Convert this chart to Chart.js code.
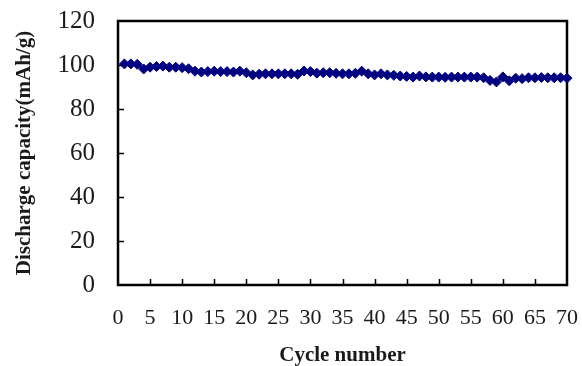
<!DOCTYPE html>
<html>
<head>
<meta charset="utf-8">
<script src="https://cdn.jsdelivr.net/npm/chart.js@4/dist/chart.umd.min.js"></script>
<style>
  body { margin: 0; background: #fff; }
  canvas { display: block; }
</style>
</head>
<body>
<canvas id="myChart" width="582" height="366"></canvas>
<script>
// cycle numbers 1..70 and discharge capacity
var cycles = [];
for (var i = 1; i <= 70; i++) cycles.push(i);

var capacity = [
    100.5, 100.5, 100.3, 98.2, 99.0, 99.3, 99.5, 99.0, 99.0, 98.8,
    98.3, 97.2, 96.8, 97.0, 97.2, 97.0, 97.0, 96.8, 97.2, 96.5,
    95.5, 95.8, 96.0, 96.0, 96.0, 96.0, 96.0, 95.8, 97.3, 97.0,
    96.3, 96.5, 96.5, 96.2, 96.0, 96.0, 96.2, 97.2, 96.0, 95.5,
    96.0, 95.5, 95.3, 95.0, 94.8, 94.5, 95.0, 94.6, 94.5, 94.5,
    94.4, 94.5, 94.5, 94.5, 94.5, 94.5, 94.2, 93.0, 92.3, 94.6,
    92.8, 94.0, 93.8, 94.2, 94.2, 94.3, 94.2, 94.2, 94.2, 94.0
];

var xTicks = [0, 5, 10, 15, 20, 25, 30, 35, 40, 45, 50, 55, 60, 65, 70];
var yTicks = [0, 20, 40, 60, 80, 100, 120];

var serif = '"Liberation Serif", "Times New Roman", serif';

// frame around the plot plus short inward tick marks
var framePlugin = {
    id: 'frame',
    beforeDatasetsDraw: function (chart) {
        var ctx = chart.ctx;
        var a = chart.chartArea;
        var xs = chart.scales.x, ys = chart.scales.y;
        ctx.save();
        ctx.strokeStyle = '#000';
        ctx.lineWidth = 1.5;
        ctx.beginPath();
        xTicks.slice(1, -1).forEach(function (v) {
            var px = Math.round(xs.getPixelForValue(v)) + 0.5;
            ctx.moveTo(px, a.bottom);
            ctx.lineTo(px, a.bottom - 6);
        });
        yTicks.slice(1, -1).forEach(function (v) {
            var py = Math.round(ys.getPixelForValue(v)) + 0.5;
            ctx.moveTo(a.left, py);
            ctx.lineTo(a.left + 6, py);
        });
        ctx.stroke();
        ctx.lineWidth = 2.5;
        ctx.strokeRect(a.left, a.top, a.right - a.left, a.bottom - a.top);
        ctx.restore();
    }
};

var ctx = document.getElementById('myChart').getContext('2d');
var chart = new Chart(ctx, {
    type: 'line',
    data: {
        labels: cycles,
        datasets: [{
            data: capacity.map(function (v, i) { return { x: cycles[i], y: v }; }),
            borderColor: '#000080',
            backgroundColor: '#000080',
            borderWidth: 2.5,
            pointStyle: 'rectRot',
            pointRadius: 5,
            pointBorderWidth: 1,
            clip: false
        }]
    },
    options: {
        responsive: false,
        animation: false,
        layout: { padding: { top: 21, right: 15, left: 0, bottom: 0 } },
        plugins: {
            legend: { display: false },
            tooltip: { enabled: false }
        },
        scales: {
            x: {
                type: 'linear',
                min: 0,
                max: 70,
                afterBuildTicks: function (s) { s.ticks = xTicks.map(function (v) { return { value: v }; }); },
                afterFit: function (s) { s.height = 81; },
                // grid hidden; tickLength only spaces the labels from the axis
                grid: { display: false, tickLength: 20 },
                border: { display: false },
                ticks: {
                    padding: 0,
                    maxRotation: 0,
                    autoSkip: false,
                    color: '#1a1a1a',
                    font: { family: serif, size: 22 }
                },
                title: {
                    display: true,
                    text: 'Cycle number',
                    color: '#1a1a1a',
                    padding: { top: 0, bottom: 0 },
                    font: { family: serif, size: 21, weight: 'bold', lineHeight: 1 }
                }
            },
            y: {
                min: 0,
                max: 120,
                afterBuildTicks: function (s) { s.ticks = yTicks.map(function (v) { return { value: v }; }); },
                afterFit: function (s) { s.width = 118; },
                grid: { display: false, tickLength: 23 },
                border: { display: false },
                ticks: {
                    padding: 0,
                    color: '#1a1a1a',
                    font: { family: serif, size: 25, lineHeight: 1 }
                },
                title: {
                    display: true,
                    text: 'Discharge capacity(mAh/g)',
                    color: '#1a1a1a',
                    padding: { top: 14.5, bottom: 0 },
                    font: { family: serif, size: 21, weight: 'bold', lineHeight: 1 }
                }
            }
        }
    },
    plugins: [framePlugin]
});
</script>
</body>
</html>
